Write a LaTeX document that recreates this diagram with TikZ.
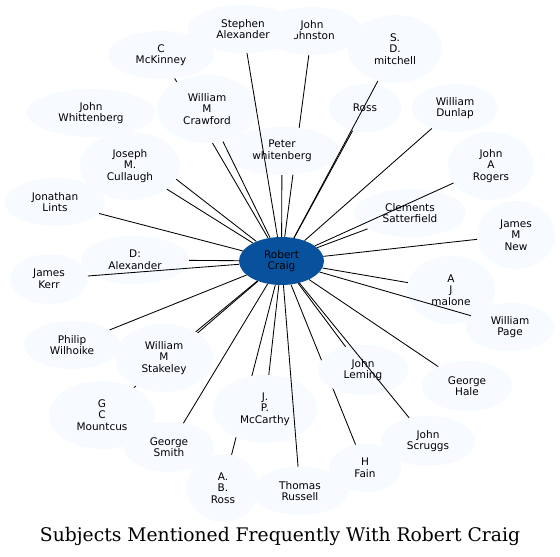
\documentclass[tikz,border=0pt]{standalone}
\usepackage{fontspec}
\setmainfont{DejaVu Sans}
\newfontfamily\titlefont{DejaVu Serif}
\usetikzlibrary{shapes.geometric}
\definecolor{nodefill}{HTML}{F7FBFF}
\definecolor{centerfill}{HTML}{08519C}
\pgfdeclarelayer{paper}
\pgfdeclarelayer{under}
\pgfsetlayers{paper,under,main}
\begin{document}
\begin{tikzpicture}[x=1pt,y=-1pt,
  person/.style={ellipse, fill=nodefill, draw=none, inner sep=0pt, align=center,
    font=\fontsize{10.5}{11.6}\selectfont},
  hub/.style={person, fill=centerfill},
  link/.style={draw=black, line width=0.85pt}]
\begin{pgfonlayer}{paper}
\fill[white] (0,0) rectangle (560,557);
\end{pgfonlayer}
\useasboundingbox (0,0) rectangle (560,557);
% nodes: name, centre, size
\node[hub, minimum width=85pt, minimum height=48pt] (rc) at (281.5,261) {Robert\\Craig};
\node[person, minimum width=100pt, minimum height=48pt] (jj) at (312,31) {John\\Johnston};
\node[person, minimum width=110pt, minimum height=48pt] (sa) at (243,29) {Stephen\\Alexander};
\node[person, minimum width=94pt, minimum height=68pt] (sdm) at (395,49) {S.\\D.\\mitchell};
\node[person, minimum width=106pt, minimum height=48pt] (cm) at (161,55) {C\\McKinney};
\node[person, minimum width=100pt, minimum height=68pt] (wmc) at (207,109) {William\\M\\Crawford};
\node[person, minimum width=128pt, minimum height=48pt] (jw) at (91,113) {John\\Whittenberg};
\node[person, minimum width=100pt, minimum height=68pt] (jmc) at (130,166) {Joseph\\M.\\Cullaugh};
\node[person, minimum width=100pt, minimum height=48pt] (jl) at (55,202) {Jonathan\\Lints};
\node[person, minimum width=114pt, minimum height=48pt] (pw) at (282,151) {Peter\\whitenberg};
\node[person, minimum width=72pt, minimum height=48pt] (ross) at (365,108) {Ross};
\node[person, minimum width=86pt, minimum height=48pt] (wd) at (455,108) {William\\Dunlap};
\node[person, minimum width=86pt, minimum height=68pt] (jar) at (491,166) {John\\A\\Rogers};
\node[person, minimum width=112pt, minimum height=48pt] (cs) at (410,213) {Clements\\Satterfield};
\node[person, minimum width=78pt, minimum height=68pt] (jmn) at (516,235) {James\\M\\New};
\node[person, minimum width=108pt, minimum height=48pt] (da) at (135,260) {D:\\Alexander};
\node[person, minimum width=78pt, minimum height=50pt] (jk) at (49,279) {James\\Kerr};
\node[person, minimum width=88pt, minimum height=68pt] (ajm) at (451,290) {A\\J\\malone};
\node[person, minimum width=88pt, minimum height=48pt] (wp) at (510,327) {William\\Page};
\node[person, minimum width=96pt, minimum height=48pt] (pwil) at (72,345) {Philip\\Wilhoike};
\node[person, minimum width=98pt, minimum height=68pt] (wms) at (164,358) {William\\M\\Stakeley};
\node[person, minimum width=90pt, minimum height=50pt] (jlem) at (363,370) {John\\Leming};
\node[person, minimum width=90pt, minimum height=50pt] (gh) at (467,386) {George\\Hale};
\node[person, minimum width=104pt, minimum height=68pt] (jpm) at (265,409) {J.\\P.\\McCarthy};
\node[person, minimum width=106pt, minimum height=68pt] (gcm) at (102,415) {G\\C\\Mountcus};
\node[person, minimum width=90pt, minimum height=50pt] (gs) at (169,447) {George\\Smith};
\node[person, minimum width=72pt, minimum height=68pt] (abr) at (223,488) {A.\\B.\\Ross};
\node[person, minimum width=96pt, minimum height=48pt] (tr) at (300,491) {Thomas\\Russell};
\node[person, minimum width=72pt, minimum height=48pt] (hf) at (365,468) {H\\Fain};
\node[person, minimum width=94pt, minimum height=50pt] (js) at (428,441) {John\\Scruggs};
% edges hidden beneath other nodes
\begin{pgfonlayer}{under}
\draw[link] (rc) -- (cm);
\draw[link] (rc) -- (jj);
\draw[link] (rc) -- (jw);
\draw[link] (rc) -- (gcm);
\draw[link] (rc) -- (abr);
\draw[link] (rc) -- (hf);
\end{pgfonlayer}
% edges drawn over nodes
\draw[link] (rc) -- (sa);
\draw[link] (rc) -- (sdm);
\draw[link] (rc) -- (wmc);
\draw[link] (rc) -- (jmc);
\draw[link] (rc) -- (jl);
\draw[link] (rc) -- (pw);
\draw[link] (rc) -- (ross);
\draw[link] (rc) -- (wd);
\draw[link] (rc) -- (jar);
\draw[link] (rc) -- (cs);
\draw[link] (rc) -- (jmn);
\draw[link] (rc) -- (da);
\draw[link] (rc) -- (jk);
\draw[link] (rc) -- (ajm);
\draw[link] (rc) -- (wp);
\draw[link] (rc) -- (pwil);
\draw[link] (rc) -- (wms);
\draw[link] (rc) -- (jlem);
\draw[link] (rc) -- (gh);
\draw[link] (rc) -- (jpm);
\draw[link] (rc) -- (gs);
\draw[link] (rc) -- (tr);
\draw[link] (rc) -- (js);
% title
\node[anchor=base, inner sep=0pt] (title) at (280,541)
  {\resizebox{480pt}{!}{\titlefont Subjects Mentioned Frequently With Robert Craig}};
\end{tikzpicture}
\end{document}
